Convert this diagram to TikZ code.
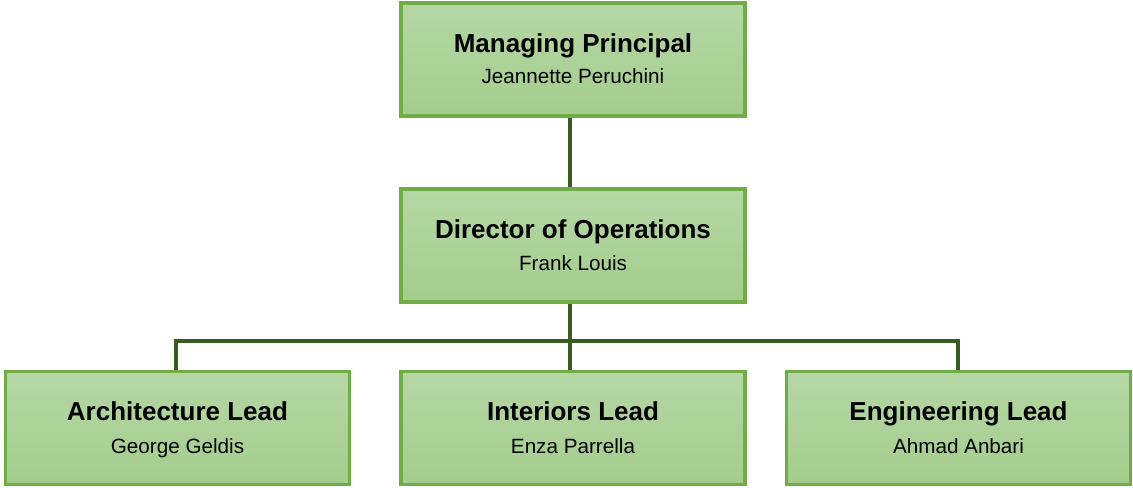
\documentclass[tikz,border=0pt]{standalone}
\usepackage{fontspec}
\setmainfont{Liberation Sans}
\definecolor{boxborder}{HTML}{70AD47}
\definecolor{boxtop}{HTML}{B6D7A6}
\definecolor{boxbot}{HTML}{A4CD8C}
\definecolor{linkcol}{HTML}{3A5A24}
\tikzset{
  orgbox/.style={draw=boxborder, line width=2.6pt, top color=boxtop, bottom color=boxbot,
    minimum width=258pt, minimum height=85pt, inner sep=0pt, align=center},
  link/.style={draw=linkcol, line width=2.3pt},
  ttl/.style={anchor=base, inner sep=0pt, font=\bfseries\fontsize{19.5}{22}\selectfont},
  nm/.style={anchor=base, inner sep=0pt, font=\fontsize{15.5}{18}\selectfont}
}
\begin{document}
\begin{tikzpicture}[x=0.75pt,y=-0.75pt]
\useasboundingbox (0,0) rectangle (1133,488);
% boxes
\node[orgbox] (mp) at (573,59.5) {};
\node[orgbox] (dir) at (573,245.5) {};
\node[orgbox] (arch) at (177.5,428) {};
\node[orgbox] (int) at (573,428) {};
\node[orgbox] (eng) at (958.5,428) {};
% connectors
\coordinate (jl) at (176,341);
\coordinate (jr) at (958,341);
\coordinate (jm) at (570,341);
\draw[link] (mp.south -| 570,0) -- (dir.north -| 570,0);
\draw[link] (dir.south -| 570,0) -- (int.north -| 570,0);
\draw[link] (arch.north -| jl) -- (jl) -- (jr) -- (eng.north -| jr);
% texts
\node[ttl] (mpt) at (573,53) {Managing Principal};
\node[nm] (mpn) at (573,84) {Jeannette Peruchini};
\node[ttl] (dirt) at (573,239) {Director of Operations};
\node[nm] (dirn) at (573,271) {Frank Louis};
\node[ttl] (archt) at (177.5,421) {Architecture Lead};
\node[nm] (archn) at (177.5,454) {George Geldis};
\node[ttl] (intt) at (573,421) {Interiors Lead};
\node[nm] (intn) at (573,454) {Enza Parrella};
\node[ttl] (engt) at (958.5,421) {Engineering Lead};
\node[nm] (engn) at (958.5,454) {Ahmad Anbari};
\end{tikzpicture}
\end{document}
